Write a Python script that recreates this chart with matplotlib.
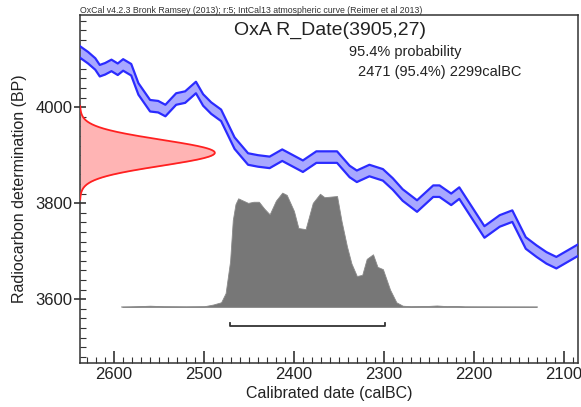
import matplotlib
matplotlib.use("Agg")
import matplotlib.pyplot as plt
import numpy as np
from matplotlib.ticker import MultipleLocator

plt.rcParams['font.family'] = ['Liberation Sans', 'DejaVu Sans']

# calibration curve (IntCal13 section), centre line and 1 sigma half width
curve_years = [2638, 2629, 2621, 2616, 2610, 2603, 2596, 2590, 2581, 2573, 2560, 2551,
               2543, 2531, 2521, 2509, 2501, 2492, 2481, 2466, 2451, 2440, 2427, 2413,
               2390, 2375, 2352, 2338, 2330, 2316, 2301, 2290, 2279, 2263, 2245, 2238,
               2225, 2216, 2188, 2171, 2157, 2142, 2130, 2119, 2108, 2084]
curve_bp = [4115, 4103, 4090, 4076, 4080, 4087, 4079, 4088, 4078, 4038, 4003, 4001,
            3993, 4017, 4021, 4041, 4015, 3998, 3983, 3925, 3892, 3888, 3885, 3900,
            3877, 3896, 3896, 3866, 3856, 3868, 3859, 3840, 3817, 3794, 3825, 3825,
            3808, 3821, 3740, 3763, 3773, 3717, 3700, 3686, 3676, 3702]
curve_err = 12

# measured date
r_mean = 3905
r_sigma = 27

# calibrated probability (relative)
prob_years = [2591, 2575, 2560, 2545, 2520, 2500, 2490, 2481, 2476, 2471, 2468, 2465,
              2462, 2451, 2445, 2439, 2433, 2427, 2420, 2413, 2408, 2400, 2395, 2387,
              2379, 2371, 2366, 2352, 2347, 2341, 2336, 2330, 2324, 2319, 2312, 2307,
              2301, 2293, 2286, 2279, 2270, 2250, 2241, 2230, 2220, 2210, 2190, 2130]
prob_vals = [0, 0.005, 0.01, 0.005, 0.003, 0.005, 0.02, 0.04, 0.12, 0.40, 0.76, 0.90,
             0.95, 0.91, 0.92, 0.92, 0.86, 0.81, 0.93, 1.00, 0.98, 0.84, 0.69, 0.68,
             0.91, 0.99, 0.96, 0.97, 0.75, 0.53, 0.38, 0.27, 0.28, 0.42, 0.46, 0.35,
             0.33, 0.15, 0.04, 0.01, 0.005, 0.008, 0.012, 0.006, 0.008, 0.003, 0.002, 0]

range_from = 2471
range_to = 2299

fig = plt.figure(figsize=(5.81, 4.07), dpi=100)
ax = fig.add_axes([0.1377, 0.1081, 0.857, 0.855])

txt = '#222222'

# calibration band
cy = np.array(curve_bp)
ax.fill_between(curve_years, cy - curve_err, cy + curve_err, color='#a8a8ff', lw=0, zorder=2)
ax.plot(curve_years, cy + curve_err, color='#2b2bff', lw=1.6, zorder=3)
ax.plot(curve_years, cy - curve_err, color='#2b2bff', lw=1.6, zorder=3)

# radiocarbon date on the y axis
ys = np.linspace(r_mean - 3.6 * r_sigma, r_mean + 3.6 * r_sigma, 200)
g = np.exp(-0.5 * ((ys - r_mean) / r_sigma) ** 2)
x0 = 2638
xs = x0 - 150 * g
ax.fill_betweenx(ys, x0, xs, color='#ffb4b4', lw=0, zorder=2)
ax.plot(xs, ys, color='#ff2020', lw=1.3, zorder=3)

# calibrated distribution
base = 3584
scale = 238
pv = np.array(prob_vals)
ax.plot([prob_years[0], prob_years[-1]], [base, base], color='#b0b0b0', lw=1.2, zorder=2)
ax.fill_between(prob_years, base, base + pv * scale, color='#777777', lw=0.6,
                edgecolor='#8a8a8a', zorder=3)

# 95.4% range bar
by = 3544
ax.plot([range_from, range_from, range_to, range_to], [by + 7, by, by, by + 7],
        color='#333333', lw=1.3, zorder=3)

ax.set_xlim(2638, 2084)
ax.set_ylim(3467, 4192)
ax.xaxis.set_major_locator(MultipleLocator(100))
ax.xaxis.set_minor_locator(MultipleLocator(10))
ax.yaxis.set_major_locator(MultipleLocator(200))
ax.yaxis.set_minor_locator(MultipleLocator(20))
ax.tick_params(axis='x', which='major', direction='in', length=9, width=1.2, color='#333333',
               labelsize=12, labelcolor=txt, pad=3)
ax.tick_params(axis='x', which='minor', direction='in', length=4, width=0.8, color='#333333')
ax.tick_params(axis='y', which='major', direction='inout', length=9, width=1.2, color='#333333',
               labelsize=12, labelcolor=txt, pad=1)
ax.tick_params(axis='y', which='minor', direction='in', length=4, width=0.8, color='#333333')
ax.tick_params(top=False, right=False)
for s in ax.spines.values():
    s.set_color('#333333')
    s.set_linewidth(1.1)

ax.set_xlabel('Calibrated date (calBC)', fontsize=11.5, color=txt, labelpad=3)
ax.set_ylabel('Radiocarbon determination (BP)', fontsize=11.5, color=txt, labelpad=6)

fig.text(0.138, 0.974, 'OxCal v4.2.3 Bronk Ramsey (2013); r:5; IntCal13 atmospheric curve (Reimer et al 2013)',
         fontsize=6.3, color='#333333', va='center', ha='left')
fig.text(0.568, 0.926, 'OxA R_Date(3905,27)', fontsize=14, color=txt, ha='center', va='center')
fig.text(0.601, 0.873, '95.4% probability', fontsize=10.5, color=txt, ha='left', va='center')
fig.text(0.617, 0.824, '2471 (95.4%) 2299calBC', fontsize=10.5, color=txt, ha='left', va='center')

fig.savefig('out.png', dpi=100)
